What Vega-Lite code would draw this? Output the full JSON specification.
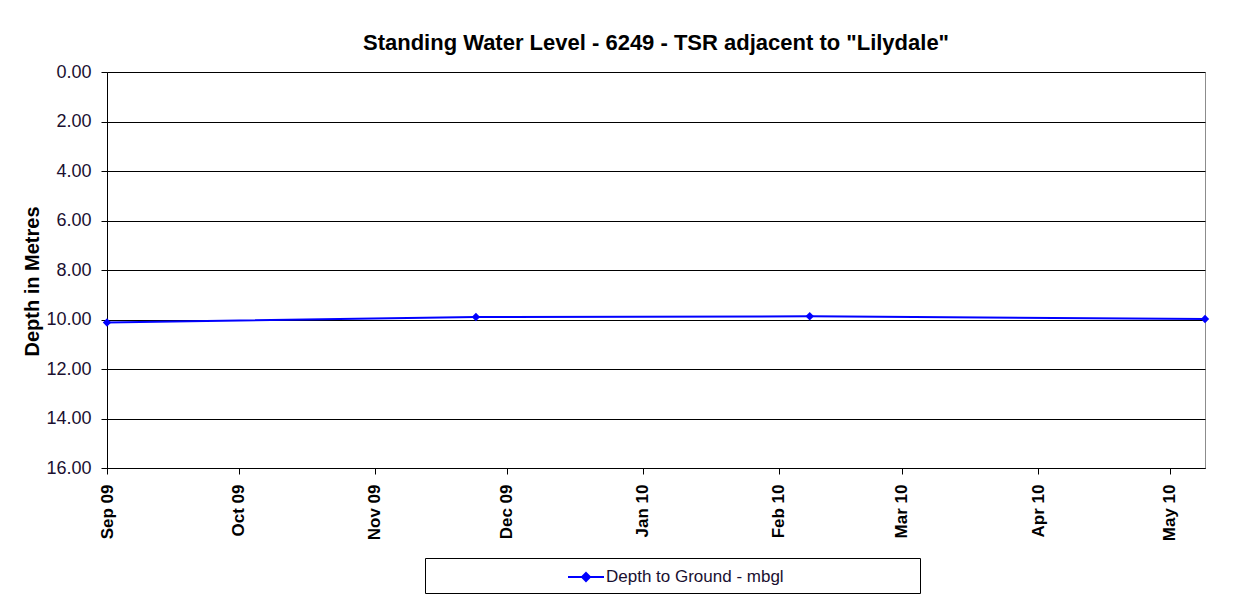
{
  "$schema": "https://vega.github.io/schema/vega-lite/v6.json",
  "autosize": "none",
  "width": 1098,
  "height": 396,
  "padding": {"left": 107, "top": 72, "right": 47, "bottom": 131},
  "background": "white",
  "title": {
    "text": "Standing Water Level - 6249 - TSR adjacent to \"Lilydale\"",
    "font": "Liberation Sans",
    "fontSize": 22,
    "fontWeight": "bold",
    "color": "#000000",
    "anchor": "middle",
    "offset": 8
  },
  "data": {
    "values": [
      {"date": "2009-09-01", "depth": 10.12, "series": "Depth to Ground - mbgl"},
      {"date": "2009-11-24", "depth": 9.9, "series": "Depth to Ground - mbgl"},
      {"date": "2010-02-08", "depth": 9.87, "series": "Depth to Ground - mbgl"},
      {"date": "2010-05-09", "depth": 9.98, "series": "Depth to Ground - mbgl"}
    ]
  },
  "mark": {"type": "line", "strokeWidth": 2, "point": {"shape": "diamond", "size": 70, "filled": true}},
  "encoding": {
    "x": {
      "field": "date",
      "type": "temporal",
      "timeUnit": "yearmonthdate",
      "scale": {"domain": [{"year": 2009, "month": 9, "date": 1}, {"year": 2010, "month": 5, "date": 9}], "nice": false},
      "axis": {
        "title": null,
        "tickCount": {"interval": "month", "step": 1},
        "format": "%b %y",
        "labelAngle": 270,
        "labelFont": "Liberation Sans",
        "labelFontSize": 17,
        "labelFontWeight": "bold",
        "labelColor": "#000000",
        "labelPadding": 10,
        "tickSize": 6,
        "tickColor": "#000000",
        "domainColor": "#000000",
        "grid": false,
        "labelFlush": false,
        "labelOverlap": false
      }
    },
    "y": {
      "field": "depth",
      "type": "quantitative",
      "scale": {"domain": [0, 16], "reverse": true, "nice": false, "zero": false},
      "axis": {
        "title": "Depth in Metres",
        "titleFont": "Liberation Sans",
        "titleFontSize": 20,
        "titleFontWeight": "bold",
        "titleColor": "#000000",
        "titlePadding": 3,
        "titleY": 209,
        "values": [0, 2, 4, 6, 8, 10, 12, 14, 16],
        "format": ".2f",
        "labelFont": "Liberation Sans",
        "labelFontSize": 18,
        "labelColor": "#1a1030",
        "labelPadding": 10,
        "tickSize": 6,
        "tickColor": "#000000",
        "domainColor": "#000000",
        "grid": true,
        "gridColor": "#000000",
        "gridOpacity": 1,
        "gridWidth": 1
      }
    },
    "color": {
      "field": "series",
      "type": "nominal",
      "scale": {"range": ["#0000FF"]},
      "legend": {
        "title": null,
        "orient": "none",
        "legendX": 318,
        "legendY": 486,
        "direction": "horizontal",
        "fillColor": "white",
        "strokeColor": "#000000",
        "padding": 8,
        "symbolType": "M-1.8,0H1.8M0,-0.4L0.4,0L0,0.4L-0.4,0Z",
        "symbolSize": 400,
        "symbolStrokeWidth": 2,
        "symbolFillColor": "#0000FF",
        "symbolOffset": 142,
        "labelFont": "Liberation Sans",
        "labelFontSize": 17,
        "labelColor": "#1a1030",
        "labelOffset": 9,
        "labelExpr": "datum.label + '                           \u200b'",
        "labelLimit": 700
      }
    }
  },
  "config": {
    "view": {"stroke": "#8c8c8c", "strokeWidth": 1}
  }
}
